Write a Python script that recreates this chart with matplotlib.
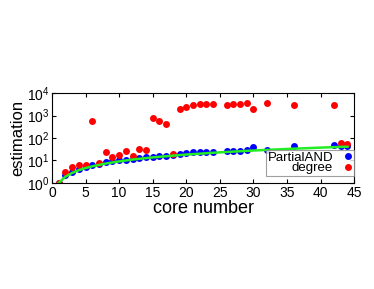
import numpy as np
import matplotlib
matplotlib.use('Agg')
import matplotlib.pyplot as plt

plt.rcParams['font.family'] = ['Liberation Sans', 'DejaVu Sans']

cores = [1, 2, 3, 4, 5, 6, 7, 8, 9, 10, 11, 12, 13, 14, 15, 16, 17, 18, 19, 20,
         21, 22, 23, 24, 26, 27, 28, 29, 30, 32, 36, 42, 43, 44]
partial = [1, 2.2, 3, 4, 5, 6.2, 7, 8.5, 9, 10, 11, 12, 13, 14, 15, 16, 16.5, 18,
           20, 22, 23, 23, 24, 24, 26, 27, 27, 29, 38, 30, 46, 48, 45, 42]
degree = [1, 3, 5, 6, 6, 550, 8, 25, 15, 17, 27, 16, 33, 30, 800, 600, 400, 20,
          2000, 2500, 2900, 3200, 3300, 3400, 3000, 3400, 3100, 3500, 2000, 3500,
          3000, 2800, 63, 55]
fit_x = [1, 2, 3, 4, 5, 6, 8, 10, 12, 15, 18, 20, 25, 30, 35, 40, 44]
fit_y = [1, 1.9, 2.8, 3.7, 4.6, 5.5, 7.3, 9.1, 11, 13.7, 16.4, 18.3, 23, 27.7,
         32.5, 37.3, 41]
yticks = [1, 10, 100, 1000, 10000]

size = 374, 289
dpi = 100.0
fig = plt.figure(figsize=(size[0]/dpi, size[1]/dpi), dpi=dpi)
ax = fig.add_axes([0.139, 0.367, 0.808, 0.311])

ax.plot(cores, partial, 'o', color='blue', markersize=5, markeredgewidth=0,
        label='PartialAND')
ax.plot(cores, degree, 'o', color='red', markersize=5, markeredgewidth=0,
        label='degree')
ax.plot(fit_x, fit_y, '-', color='#22ee22', linewidth=1.8)

ax.set_yscale('log')
ax.set_xlim(0, 45)
ax.set_ylim(1, 1e4)
ax.set_xticks(range(0, 46, 5))
ax.set_yticks(yticks)
ax.minorticks_off()
ax.tick_params(labelsize=10, direction='in', length=3, top=True, right=True,
               pad=2)
ax.set_xlabel('core number', fontsize=13, labelpad=0)
ax.set_ylabel('estimation', fontsize=12, labelpad=1)
leg = ax.legend(loc='lower right', markerfirst=False, fontsize=9.5, frameon=True,
                fancybox=False, edgecolor='#888888', borderpad=0.1,
                labelspacing=-0.1, handletextpad=0.7, handlelength=0.8,
                borderaxespad=0, bbox_to_anchor=(1.0, 0.08))
leg.get_frame().set_linewidth(0.8)

fig.savefig('out.png', dpi=dpi)
